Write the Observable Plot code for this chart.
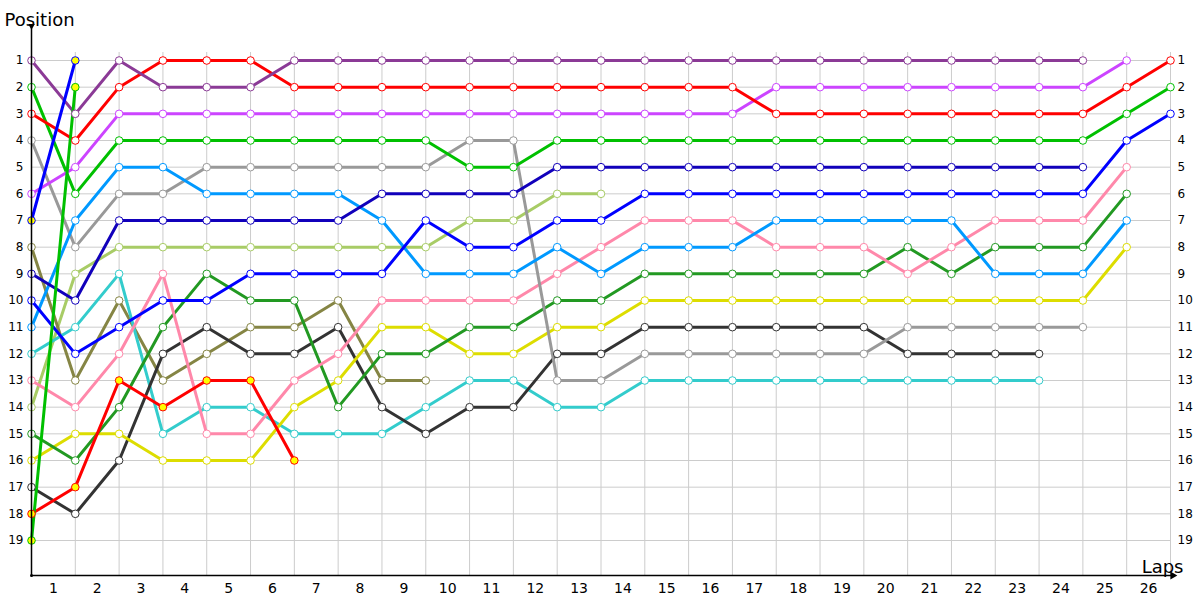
<!DOCTYPE html>
<html>
<head>
<meta charset="utf-8">
<script src="https://cdn.jsdelivr.net/npm/d3@7"></script>
<script src="https://cdn.jsdelivr.net/npm/@observablehq/plot@0.6"></script>
<style>
  html, body { margin: 0; padding: 0; background: #fff; }
  #chart svg { display: block; }
</style>
</head>
<body>
<div id="chart"></div>
<script>
// Tick labels
const lapLabels = [1,2,3,4,5,6,7,8,9,10,11,12,13,14,15,16,17,18,19,20,21,22,23,24,25,26];
const positionLabels = [1,2,3,4,5,6,7,8,9,10,11,12,13,14,15,16,17,18,19];
const lapGrid = [0,1,2,3,4,5,6,7,8,9,10,11,12,13,14,15,16,17,18,19,20,21,22,23,24,25,26];

// Position at each lap boundary (index 0 = start)
const purple    = [1,3,1,2,2,2,1,1,1,1,1,1,1,1,1,1,1,1,1,1,1,1,1,1,1];
const red       = [3,4,2,1,1,1,2,2,2,2,2,2,2,2,2,2,2,3,3,3,3,3,3,3,3,2,1];
const violet    = [6,5,3,3,3,3,3,3,3,3,3,3,3,3,3,3,3,2,2,2,2,2,2,2,2,1];
const green     = [2,6,4,4,4,4,4,4,4,4,5,5,4,4,4,4,4,4,4,4,4,4,4,4,4,3,2];
const gray      = [4,8,6,6,5,5,5,5,5,5,4,4,13,13,12,12,12,12,12,12,11,11,11,11,11];
const blue      = [10,12,11,10,10,9,9,9,9,7,8,8,7,7,6,6,6,6,6,6,6,6,6,6,6,4,3];
const navy      = [9,10,7,7,7,7,7,7,6,6,6,6,5,5,5,5,5,5,5,5,5,5,5,5,5];
const lightblue = [11,7,5,5,6,6,6,6,7,9,9,9,8,9,8,8,8,7,7,7,7,7,9,9,9,7];
const lightgreen= [14,9,8,8,8,8,8,8,8,8,7,7,6,6];
const cyan      = [12,11,9,15,14,14,15,15,15,14,13,13,14,14,13,13,13,13,13,13,13,13,13,13];
const olive     = [8,13,10,13,12,11,11,10,13,13];
const pink      = [13,14,12,9,15,15,13,12,10,10,10,10,9,8,7,7,7,8,8,8,9,8,7,7,7,5];
const forest    = [15,16,14,11,9,10,10,14,12,12,11,11,10,10,9,9,9,9,9,9,8,9,8,8,8,6];
const yellow    = [16,15,15,16,16,16,14,13,11,11,12,12,11,11,10,10,10,10,10,10,10,10,10,10,10,8];
const black     = [17,18,16,12,11,12,12,11,14,15,14,14,12,12,11,11,11,11,11,11,12,12,12,12];
// series marked with yellow-filled points
const blueMarked  = [7,1];
const greenMarked = [19,2];
const redMarked   = [18,17,13,14,13,13,16];

const series = [
  {values: lightgreen, color: "#a8cc66", fill: "white"},
  {values: olive,      color: "#858544", fill: "white"},
  {values: cyan,       color: "#33cccc", fill: "white"},
  {values: black,      color: "#333333", fill: "white"},
  {values: yellow,     color: "#dddd00", fill: "white"},
  {values: forest,     color: "#229922", fill: "white"},
  {values: pink,       color: "#ff88aa", fill: "white"},
  {values: gray,       color: "#999999", fill: "white"},
  {values: lightblue,  color: "#0099ff", fill: "white"},
  {values: navy,       color: "#1100bb", fill: "white"},
  {values: blue,       color: "#0000ff", fill: "white"},
  {values: green,      color: "#00c000", fill: "white"},
  {values: violet,     color: "#cc44ff", fill: "white"},
  {values: red,        color: "#ff0000", fill: "white"},
  {values: purple,     color: "#8b3a96", fill: "white"},
  {values: redMarked,  color: "#ff0000", fill: "#ffff00"},
  {values: greenMarked,color: "#00c000", fill: "#ffff00"},
  {values: blueMarked, color: "#0000ff", fill: "#ffff00"}
];

const yBottom = 20.3125;
const font = "DejaVu Sans, Verdana, sans-serif";

const marks = [
  Plot.ruleY(positionLabels, {y: d => d, x1: 0, x2: 26, stroke: "#cccccc", strokeWidth: 1}),
  Plot.ruleX(lapGrid, {x: d => d, y1: 0.7, y2: yBottom, stroke: "#cccccc", strokeWidth: 1}),
  ...series.map(s => Plot.line(s.values, {x: (d, i) => i, y: d => d, stroke: s.color, strokeWidth: 3})),
  ...series.map(s => Plot.dot(s.values, {x: (d, i) => i, y: d => d, r: 3.8, stroke: s.color, fill: s.fill, strokeWidth: 1})),
  Plot.ruleX([0], {y1: -0.3, y2: yBottom, stroke: "black", strokeWidth: 1.5}),
  Plot.ruleY([yBottom], {x1: 0, x2: 26.05, stroke: "black", strokeWidth: 1.5}),
  Plot.dot([0], {x: 0, y: -0.3, symbol: "triangle", rotate: 180, r: 2.5, fill: "black", stroke: "none"}),
  Plot.dot([0], {x: 26.05, y: yBottom, symbol: "triangle", rotate: 90, r: 3, fill: "black", stroke: "none"}),
  Plot.dot([0], {x: 0, y: yBottom, r: 1.5, fill: "black", stroke: "none"}),
  Plot.text(positionLabels, {y: d => d, frameAnchor: "left", dx: -8, textAnchor: "end", fontSize: 12, fill: "black"}),
  Plot.text(positionLabels, {y: d => d, frameAnchor: "right", dx: 7, textAnchor: "start", fontSize: 12, fill: "black"}),
  Plot.text(lapLabels, {x: d => d - 0.5, frameAnchor: "bottom", dy: 17, fontSize: 14, fill: "black"}),
  Plot.text(["Position"], {frameAnchor: "top-left", dx: -27, dy: -8, textAnchor: "start", lineAnchor: "bottom", fontSize: 18, fill: "black"}),
  Plot.text(["Laps"], {frameAnchor: "bottom-right", dx: 13, dy: -3, textAnchor: "end", lineAnchor: "bottom", fontSize: 18, fill: "black"})
];

const chart = Plot.plot({
  width: 1200,
  height: 600,
  marginLeft: 31,
  marginRight: 30,
  marginTop: 33.333,
  marginBottom: 25,
  x: {domain: [0, 26], axis: null},
  y: {domain: [0, yBottom], reverse: true, axis: null},
  style: {fontFamily: font, background: "white", overflow: "visible"},
  marks
});
document.getElementById("chart").appendChild(chart);
</script>
</body>
</html>
